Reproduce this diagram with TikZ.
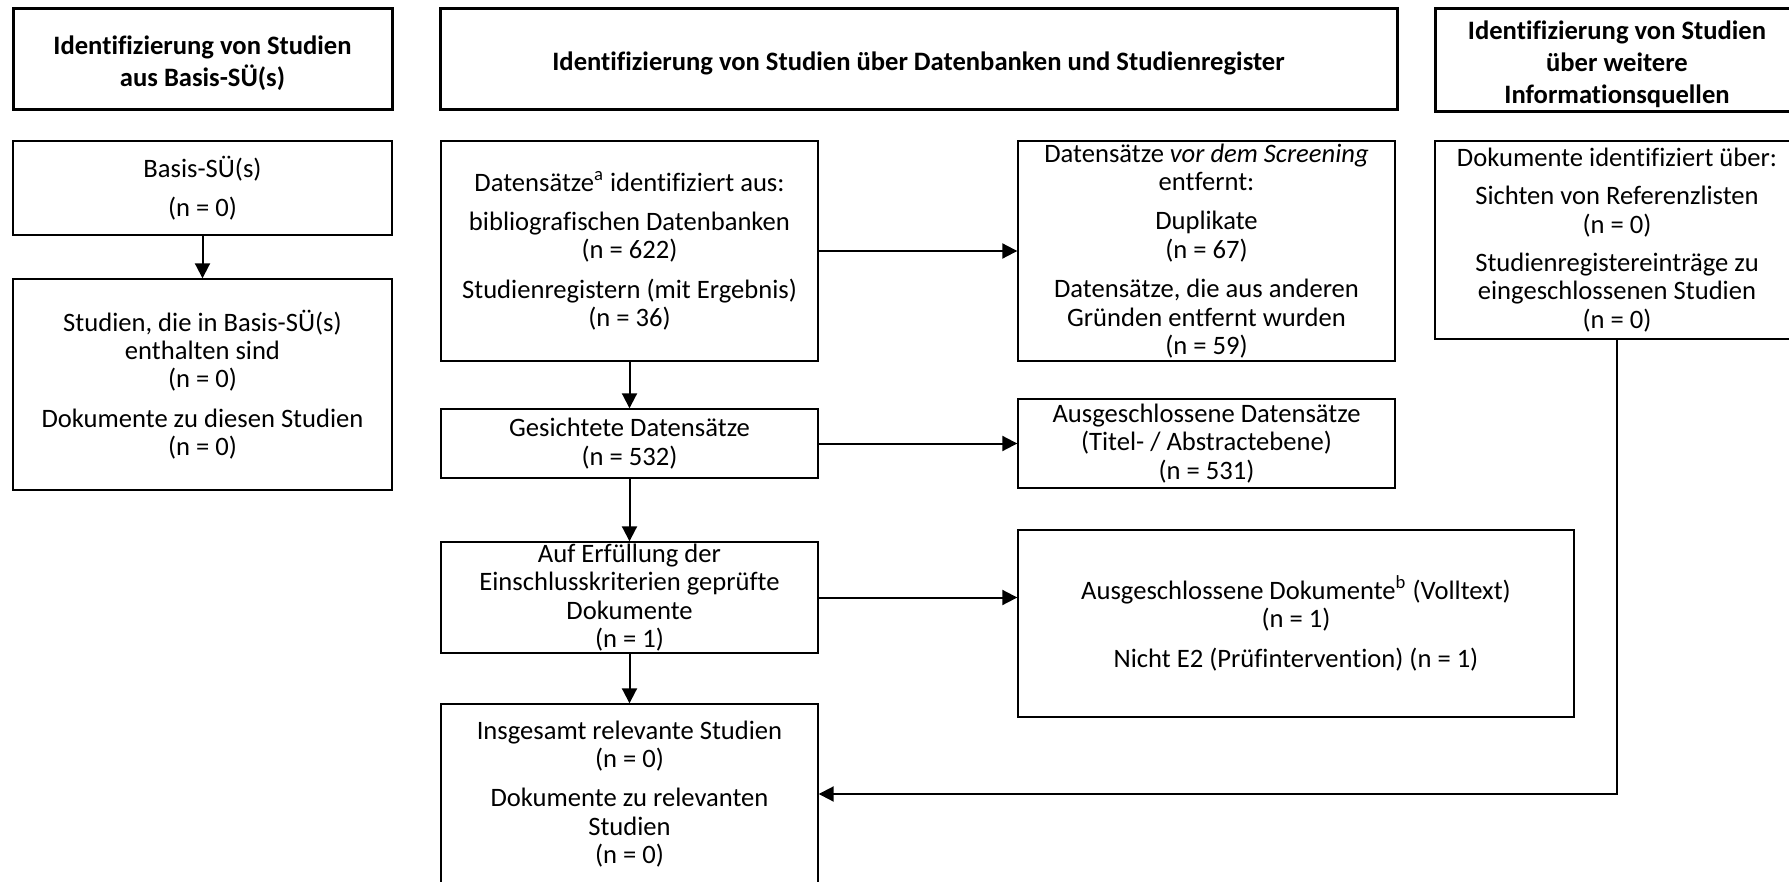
\documentclass[tikz,border=0pt]{standalone}
\usepackage{fontspec}
\setmainfont{Carlito}[Ligatures={NoCommon}]
\usetikzlibrary{fit,arrows.meta}
\newcommand\mybox[6]{%
  \path (#3,#4) coordinate (#2-nw) (#5,#6) coordinate (#2-se);
  \node[#1, fit=(#2-nw)(#2-se)] (#2) {};}
\begin{document}
\begin{tikzpicture}[x=0.5pt,y=-0.5pt,
  frame/.style={draw, line width=0.7pt, inner sep=0pt},
  hdr/.style={draw, line width=1.5pt, inner sep=0pt},
  txt/.style={align=center, font=\fontsize{13.3}{14.2}\selectfont, inner sep=0pt},
  htxt/.style={align=center, font=\fontsize{13.3}{16}\selectfont\bfseries, inner sep=0pt, yshift=-2pt},
  arr/.style={line width=1pt, -{Triangle[length=7.5pt,width=7.5pt]}}]
\useasboundingbox (0,0) rectangle (1789,882);
\clip (0,0) rectangle (1789,882);
\fill[white] (0,0) rectangle (1789,882);

% headers
\mybox{hdr}{h1}{13}{9}{392}{110}
\mybox{hdr}{h2}{440}{9}{1397}{110}
\mybox{hdr}{h3}{1435}{9}{1799}{112}
\node[htxt] (h1t) at (h1) {Identifizierung von Studien\\aus Basis-SÜ(s)};
\node[htxt] (h2t) at (h2) {Identifizierung von Studien über Datenbanken und Studienregister};
\node[htxt] (h3t) at (h3) {Identifizierung von Studien\\über weitere\\Informationsquellen};

% left column
\mybox{frame}{b1}{13}{141}{392}{235}
\mybox{frame}{b2}{13}{279}{392}{490}
\node[txt] (b1t) at (b1) {Basis-SÜ(s)\\[5.5pt](n = 0)};
\node[txt] (b2t) at (b2) {Studien, die in Basis-SÜ(s)\\enthalten sind\\(n = 0)\\[5.5pt]Dokumente zu diesen Studien\\(n = 0)};

% middle column
\mybox{frame}{d1}{441}{141}{818}{361}
\mybox{frame}{g}{441}{409}{818}{478}
\mybox{frame}{e}{441}{542}{818}{653}
\mybox{frame}{ins}{441}{704}{818}{884}
\node[txt] (d1t) at (d1) {Datensätze\textsuperscript{a} identifiziert aus:\\[5.5pt]bibliografischen Datenbanken\\(n = 622)\\[5.5pt]Studienregistern (mit Ergebnis)\\(n = 36)};
\node[txt] (gt) at (g) {Gesichtete Datensätze\\(n = 532)};
\node[txt] (et) at (e) {Auf Erfüllung der\\Einschlusskriterien geprüfte\\Dokumente\\(n = 1)};
\node[txt] (inst) at (ins) {Insgesamt relevante Studien\\(n = 0)\\[5.5pt]Dokumente zu relevanten\\Studien\\(n = 0)};

% exclusion column
\mybox{frame}{v1}{1018}{141}{1395}{361}
\mybox{frame}{a1}{1018}{399}{1395}{488}
\mybox{frame}{a2}{1018}{530}{1574}{717}
\node[txt] (v1t) at (v1) {Datensätze \textit{vor dem Screening}\\entfernt:\\[5.5pt]Duplikate\\(n = 67)\\[5.5pt]Datensätze, die aus anderen\\Gründen entfernt wurden\\(n = 59)};
\node[txt] (a1t) at (a1) {Ausgeschlossene Datensätze\\(Titel- / Abstractebene)\\(n = 531)};
\node[txt] (a2t) at (a2) {Ausgeschlossene Dokumente\textsuperscript{b} (Volltext)\\(n = 1)\\[5.5pt]Nicht E2 (Prüfintervention) (n = 1)};

% right column
\mybox{frame}{r}{1435}{141}{1799}{339}
\node[txt] (rt) at (r) {Dokumente identifiziert über:\\[5pt]Sichten von Referenzlisten\\(n = 0)\\[5pt]Studienregistereinträge zu\\eingeschlossenen Studien\\(n = 0)};

% connectors
\draw[arr] (b1) -- (b2);
\draw[arr] (d1) -- (g);
\draw[arr] (g) -- (e);
\draw[arr] (e) -- (ins);
\draw[arr] (d1.east) -- (v1.west);
\draw[arr] (g.east) -- (a1.west);
\draw[arr] (e.east) -- (e.east -| a2.west);
\draw[arr] (r.south) |- (ins.east);
\end{tikzpicture}
\end{document}
